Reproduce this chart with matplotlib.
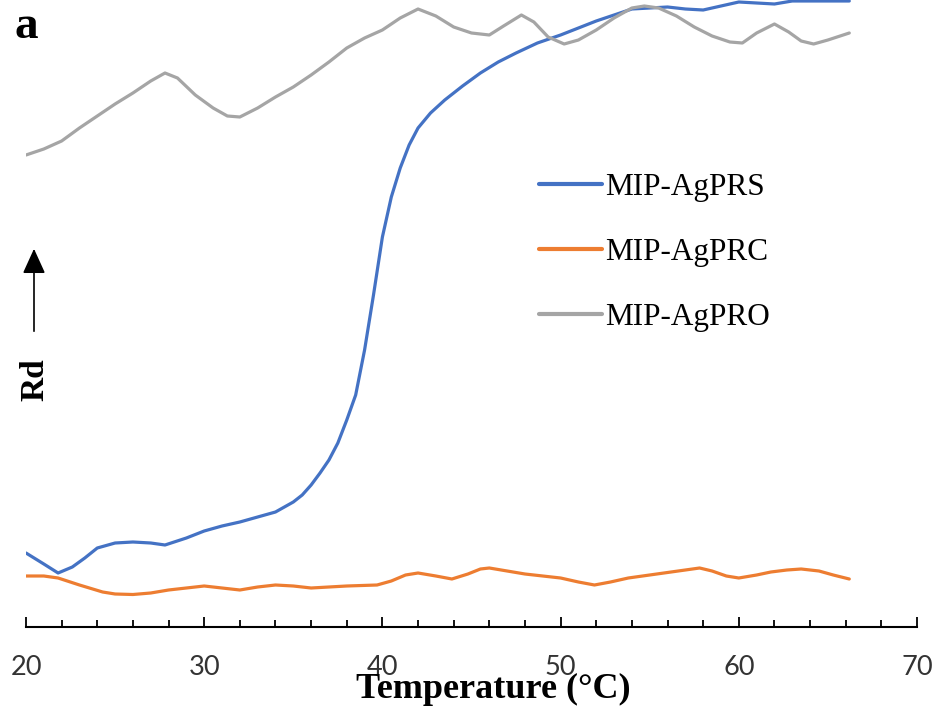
import matplotlib
matplotlib.use("Agg")
import matplotlib.pyplot as plt
from matplotlib.ticker import MultipleLocator

# ---- data (Rd in arbitrary units) ----
x_prs = [20, 21, 21.8, 22.6, 23.3, 24, 25, 26, 27, 27.8, 29, 30, 31, 32, 33, 34, 35, 35.5,
         36, 36.5, 37, 37.5, 38, 38.5, 39, 39.5, 40, 40.5, 41, 41.5, 42, 42.7, 43.5, 44.5,
         45.5, 46.5, 47.5, 48.7, 50, 51, 52, 53, 54, 55, 56, 57, 58, 59, 60, 61, 62, 63,
         64, 65, 66.2]
rd_prs = [0.74, 0.63, 0.54, 0.60, 0.69, 0.79, 0.84, 0.85, 0.84, 0.82, 0.89, 0.96, 1.01,
          1.05, 1.10, 1.15, 1.25, 1.32, 1.42, 1.54, 1.67, 1.84, 2.07, 2.32, 2.77, 3.32,
          3.90, 4.30, 4.59, 4.82, 4.99, 5.14, 5.27, 5.41, 5.54, 5.65, 5.74, 5.84, 5.92,
          5.99, 6.06, 6.12, 6.18, 6.19, 6.20, 6.18, 6.17, 6.21, 6.25, 6.24, 6.23, 6.26,
          6.26, 6.26, 6.26]

x_prc = [20, 21, 21.8, 23, 24.3, 25, 26, 27, 28, 29, 30, 31, 32, 33, 34, 35, 36, 37, 38,
         39.7, 40.5, 41.3, 42, 43, 43.9, 44.8, 45.5, 46, 47, 48, 49, 50, 51, 51.9, 52.8,
         53.8, 55, 55.8, 57, 57.8, 58.5, 59.3, 60, 61, 61.8, 62.7, 63.5, 64.5, 65.3, 66.2]
rd_prc = [0.51, 0.51, 0.49, 0.42, 0.35, 0.33, 0.325, 0.34, 0.37, 0.39, 0.41, 0.39, 0.37,
          0.40, 0.42, 0.41, 0.39, 0.40, 0.41, 0.42, 0.46, 0.52, 0.54, 0.51, 0.48, 0.53,
          0.58, 0.59, 0.56, 0.53, 0.51, 0.49, 0.45, 0.42, 0.45, 0.49, 0.52, 0.54, 0.57,
          0.59, 0.56, 0.51, 0.49, 0.52, 0.55, 0.57, 0.58, 0.56, 0.52, 0.48]

x_pro = [20, 21, 22, 23, 24, 25, 26, 27, 27.8, 28.5, 29.5, 30.5, 31.3, 32, 33, 34, 35, 36,
         37, 38, 39, 40, 41, 42, 43, 44, 45, 46, 46.8, 47.8, 48.5, 49.3, 50.2, 51, 52, 53,
         54, 54.7, 55.5, 56.5, 57.5, 58.5, 59.5, 60.2, 61, 62, 62.8, 63.5, 64.2, 65, 66.2]
rd_pro = [4.72, 4.78, 4.86, 4.99, 5.11, 5.23, 5.34, 5.46, 5.54, 5.49, 5.32, 5.19, 5.11,
          5.10, 5.19, 5.30, 5.40, 5.52, 5.65, 5.79, 5.89, 5.97, 6.09, 6.18, 6.11, 6.00,
          5.94, 5.92, 6.01, 6.12, 6.05, 5.90, 5.83, 5.87, 5.97, 6.09, 6.19, 6.21, 6.19,
          6.11, 6.00, 5.91, 5.85, 5.84, 5.94, 6.03, 5.95, 5.86, 5.83, 5.87, 5.94]

labels = ["MIP-AgPRS", "MIP-AgPRC", "MIP-AgPRO"]
colors = ["#4472C4", "#ED7D31", "#A5A5A5"]
xticks = [20, 30, 40, 50, 60, 70]

W, H = 941, 713
fig = plt.figure(figsize=(W / 100, H / 100), dpi=100)
ax = fig.add_axes([26 / W, 86 / H, 891 / W, 627 / H])

for xs, ys, lab, c in zip([x_prs, x_prc, x_pro], [rd_prs, rd_prc, rd_pro], labels, colors):
    ax.plot(xs, ys, color=c, lw=2.3, label=lab, solid_capstyle="round",
            solid_joinstyle="round")

ax.set_xlim(20, 70)
ax.set_ylim(0, 6.27)
for s in ["left", "right", "top"]:
    ax.spines[s].set_visible(False)
ax.spines["bottom"].set_linewidth(1.5)
ax.set_yticks([])
ax.set_xticks(xticks)
ax.xaxis.set_minor_locator(MultipleLocator(2))
ax.tick_params(axis="x", which="major", direction="in", length=7.5, width=1.3, pad=20)
ax.tick_params(axis="x", which="minor", direction="in", length=5, width=1.3)
for t in ax.get_xticklabels():
    t.set_fontfamily(["Lato", "DejaVu Sans"])
    t.set_fontsize(19.5)
    t.set_color("#333333")

fig.text(493 / W, 1 - 689 / H, "Temperature (°C)", family="Liberation Serif",
         fontweight="bold", fontsize=26, ha="center", va="center")
fig.text(15 / W, 1 - 27 / H, "a", family="Liberation Serif", fontweight="bold",
         fontsize=34, ha="left", va="center")
fig.text(35 / W, 1 - 380 / H, "Rd", family="Liberation Serif", fontweight="bold",
         fontsize=24, rotation=90, ha="center", va="center")
fig.add_artist(matplotlib.patches.FancyArrowPatch(
    (34 / W, 1 - 334 / H), (34 / W, 1 - 246 / H), transform=fig.transFigure,
    arrowstyle="-|>,head_length=1.1,head_width=0.5", mutation_scale=14,
    color="black", lw=1.2))

leg = ax.legend(loc="upper left", bbox_to_anchor=(539 / W, 1 - 173 / H),
                bbox_transform=fig.transFigure, frameon=False, borderpad=0,
                borderaxespad=0, handlelength=2.0, handletextpad=0.1,
                labelspacing=1.15, prop={"family": "Liberation Serif", "size": 22.5})
for h in leg.get_lines():
    h.set_linewidth(3)

fig.savefig("out.png", dpi=100)
